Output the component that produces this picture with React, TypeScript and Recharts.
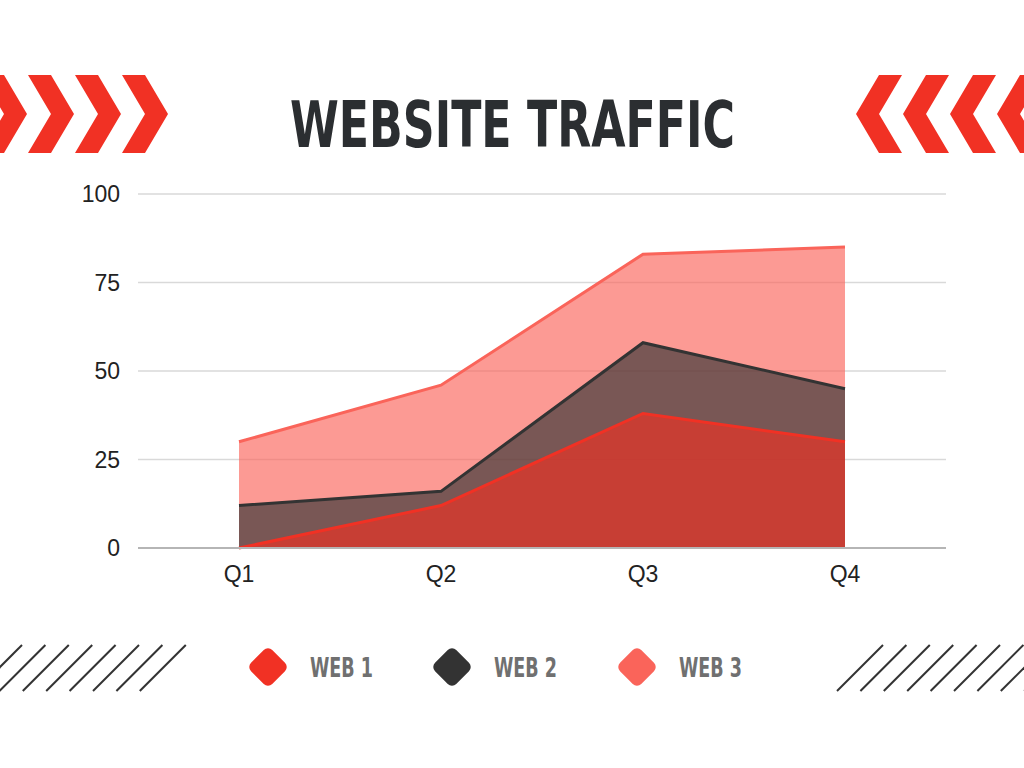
import { AreaChart, Area, XAxis, YAxis, CartesianGrid } from "recharts";

const quarters = ["Q1", "Q2", "Q3", "Q4"];
const web1 = [0, 12, 38, 30];
const web2 = [12, 16, 58, 45];
const web3 = [30, 46, 83, 85];
const yTicks = [0, 25, 50, 75, 100];

const seriesNames = ["WEB 1", "WEB 2", "WEB 3"];
const seriesColors = ["#f13124", "#333333", "#fa645a"];

const data = quarters.map((q, i) => ({
  quarter: q,
  web1: web1[i],
  web2: web2[i],
  web3: web3[i],
}));

const RED = "#f13124";
const condensed = "'DejaVu Sans Condensed', 'Liberation Sans Narrow', sans-serif";
const tickFont = { fill: "#222", fontSize: 23, fontFamily: "'Liberation Sans', Arial, sans-serif" };

const Chevrons = ({ mirror }: { mirror?: boolean }) => {
  const starts = [-19, 28, 75, 122];
  return (
    <g transform={mirror ? "translate(1024,0) scale(-1,1)" : undefined}>
      {starts.map((a) => (
        <polygon
          key={a}
          points={`${a},75 ${a + 23},75 ${a + 46},114 ${a + 23},153 ${a},153 ${a + 23},114`}
          fill={RED}
        />
      ))}
    </g>
  );
};

const Hatch = ({ x0, count }: { x0: number; count: number }) => {
  const lines = Array.from({ length: count }, (_, k) => x0 + k * 23.4);
  return (
    <g stroke="#333" strokeWidth={2}>
      {lines.map((b) => (
        <line key={b} x1={b} y1={691} x2={b + 46} y2={645} />
      ))}
    </g>
  );
};

const Legend = () => {
  const centers = [268, 452, 637];
  return (
    <g>
      {seriesNames.map((name, i) => (
        <g key={name}>
          <rect
            x={centers[i] - 15}
            y={667 - 15}
            width={30}
            height={30}
            rx={6}
            fill={seriesColors[i]}
            transform={`rotate(45 ${centers[i]} 667)`}
          />
          <text
            x={centers[i] + 42}
            y={677}
            fontFamily={condensed}
            fontWeight="bold"
            fontSize={26}
            fill="#707070"
            textLength={63}
            lengthAdjust="spacingAndGlyphs"
          >
            {name}
          </text>
        </g>
      ))}
    </g>
  );
};

export default function App() {
  return (
    <div
      style={{
        position: "absolute",
        left: 0,
        top: 0,
        width: 1024,
        height: 768,
        background: "#fff",
        overflow: "hidden",
      }}
    >
      <svg width={1024} height={768} style={{ position: "absolute", left: 0, top: 0 }}>
        <Chevrons />
        <Chevrons mirror />
        <text
          x={290}
          y={147}
          fontFamily={condensed}
          fontWeight="bold"
          fontSize={64}
          fill="#2b2e31"
          textLength={445}
          lengthAdjust="spacingAndGlyphs"
        >
          WEBSITE TRAFFIC
        </text>
        <Hatch x0={-24} count={8} />
        <Hatch x0={837} count={9} />
        <Legend />
      </svg>
      <div style={{ position: "absolute", left: 0, top: 0 }}>
        <AreaChart
          width={1024}
          height={768}
          data={data}
          margin={{ top: 194, right: 78, bottom: 0, left: 78 }}
        >
          <CartesianGrid vertical={false} stroke="#d9d9d9" strokeWidth={1.5} />
          <XAxis
            dataKey="quarter"
            padding={{ left: 101, right: 101 }}
            height={220}
            axisLine={{ stroke: "#b5b5b5", strokeWidth: 2 }}
            tickLine={false}
            tickSize={0}
            tickMargin={18}
            tick={tickFont}
          />
          <YAxis
            width={60}
            domain={[0, 100]}
            ticks={yTicks}
            axisLine={false}
            tickLine={false}
            tickSize={0}
            tickMargin={18}
            tick={tickFont}
          />
          <Area
            type="linear"
            dataKey="web3"
            stroke={seriesColors[2]}
            strokeWidth={3}
            fill={seriesColors[2]}
            fillOpacity={0.65}
            dot={false}
            activeDot={false}
            isAnimationActive={false}
          />
          <Area
            type="linear"
            dataKey="web2"
            stroke={seriesColors[1]}
            strokeWidth={3}
            fill={seriesColors[1]}
            fillOpacity={0.65}
            dot={false}
            activeDot={false}
            isAnimationActive={false}
          />
          <Area
            type="linear"
            dataKey="web1"
            stroke={seriesColors[0]}
            strokeWidth={3}
            fill={seriesColors[0]}
            fillOpacity={0.65}
            dot={false}
            activeDot={false}
            isAnimationActive={false}
          />
        </AreaChart>
      </div>
    </div>
  );
}
